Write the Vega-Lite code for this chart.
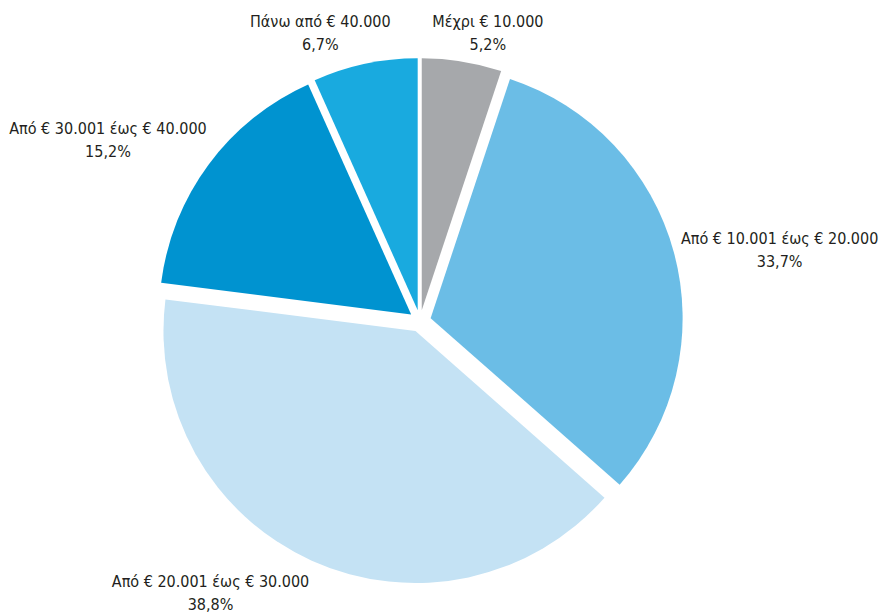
{
  "$schema": "https://vega.github.io/schema/vega-lite/v6.json",
  "autosize": {"type": "none"},
  "width": 840,
  "height": 586,
  "padding": {"left": 0, "top": 28, "right": 42, "bottom": 0},
  "background": "white",
  "config": {"view": {"stroke": null}},
  "data": {
    "values": [
      {"ord": 1, "name": "Μέχρι € 10.000", "pct": "5,2%", "value": 5.1},
      {"ord": 2, "name": "Από € 10.001 έως € 20.000", "pct": "33,7%", "value": 31.4},
      {"ord": 3, "name": "Από € 20.001 έως € 30.000", "pct": "38,8%", "value": 40.5},
      {"ord": 4, "name": "Από € 30.001 έως € 40.000", "pct": "15,2%", "value": 16.3},
      {"ord": 5, "name": "Πάνω από € 40.000", "pct": "6,7%", "value": 6.7}
    ]
  },
  "transform": [
    {"stack": "value", "groupby": [], "sort": [{"field": "ord", "order": "ascending"}], "as": ["v0", "v1"]},
    {"calculate": "(datum.v0 + datum.v1) / 2", "as": "mid"},
    {"calculate": "datum.name + '\\n' + datum.pct", "as": "lbl"}
  ],
  "encoding": {
    "theta": {"field": "v0", "type": "quantitative", "scale": {"domain": [0, 100], "range": [0, 6.283185307]}},
    "theta2": {"field": "v1"},
    "color": {
      "field": "name",
      "type": "nominal",
      "scale": {
        "domain": ["Μέχρι € 10.000", "Από € 10.001 έως € 20.000", "Από € 20.001 έως € 30.000", "Από € 30.001 έως € 40.000", "Πάνω από € 40.000"],
        "range": ["#a6a8ab", "#6bbde6", "#c4e2f4", "#0093d0", "#19aadf"]
      },
      "legend": null
    }
  },
  "layer": [
    {
      "transform": [{"filter": "datum.ord == 1"}],
      "mark": {"type": "arc", "radius": 252, "xOffset": 1.75, "yOffset": -10.86}
    },
    {
      "transform": [{"filter": "datum.ord == 2"}],
      "mark": {"type": "arc", "radius": 252, "xOffset": 10.62, "yOffset": -2.87}
    },
    {
      "transform": [{"filter": "datum.ord == 3"}],
      "mark": {"type": "arc", "radius": 252, "xOffset": -4.53, "yOffset": 10.02}
    },
    {
      "transform": [{"filter": "datum.ord == 4"}],
      "mark": {"type": "arc", "radius": 252, "xOffset": -8.84, "yOffset": -6.55}
    },
    {
      "transform": [{"filter": "datum.ord == 5"}],
      "mark": {"type": "arc", "radius": 252, "xOffset": -2.31, "yOffset": -10.75}
    },
    {
      "transform": [{"filter": "datum.ord == 1"}],
      "mark": {"type": "text", "radius": 300, "dx": 20, "dy": -3, "align": "center", "baseline": "middle", "lineBreak": "\n", "lineHeight": 23, "font": "DejaVu Sans Condensed, Roboto, sans-serif", "fontSize": 16, "color": "#231f20"},
      "encoding": {"theta": {"field": "mid", "type": "quantitative"}, "theta2": null, "color": null, "text": {"field": "lbl"}}
    },
    {
      "transform": [{"filter": "datum.ord == 2"}],
      "mark": {"type": "text", "radius": 300, "dx": 70, "dy": -4, "align": "center", "baseline": "middle", "lineBreak": "\n", "lineHeight": 23, "font": "DejaVu Sans Condensed, Roboto, sans-serif", "fontSize": 16, "color": "#231f20"},
      "encoding": {"theta": {"field": "mid", "type": "quantitative"}, "theta2": null, "color": null, "text": {"field": "lbl"}}
    },
    {
      "transform": [{"filter": "datum.ord == 3"}],
      "mark": {"type": "text", "radius": 300, "dx": -86, "dy": -12, "align": "center", "baseline": "middle", "lineBreak": "\n", "lineHeight": 23, "font": "DejaVu Sans Condensed, Roboto, sans-serif", "fontSize": 16, "color": "#231f20"},
      "encoding": {"theta": {"field": "mid", "type": "quantitative"}, "theta2": null, "color": null, "text": {"field": "lbl"}}
    },
    {
      "transform": [{"filter": "datum.ord == 4"}],
      "mark": {"type": "text", "radius": 300, "dx": -71, "dy": -13, "align": "center", "baseline": "middle", "lineBreak": "\n", "lineHeight": 23, "font": "DejaVu Sans Condensed, Roboto, sans-serif", "fontSize": 16, "color": "#231f20"},
      "encoding": {"theta": {"field": "mid", "type": "quantitative"}, "theta2": null, "color": null, "text": {"field": "lbl"}}
    },
    {
      "transform": [{"filter": "datum.ord == 5"}],
      "mark": {"type": "text", "radius": 300, "dx": -37, "dy": -6, "align": "center", "baseline": "middle", "lineBreak": "\n", "lineHeight": 23, "font": "DejaVu Sans Condensed, Roboto, sans-serif", "fontSize": 16, "color": "#231f20"},
      "encoding": {"theta": {"field": "mid", "type": "quantitative"}, "theta2": null, "color": null, "text": {"field": "lbl"}}
    }
  ]
}
